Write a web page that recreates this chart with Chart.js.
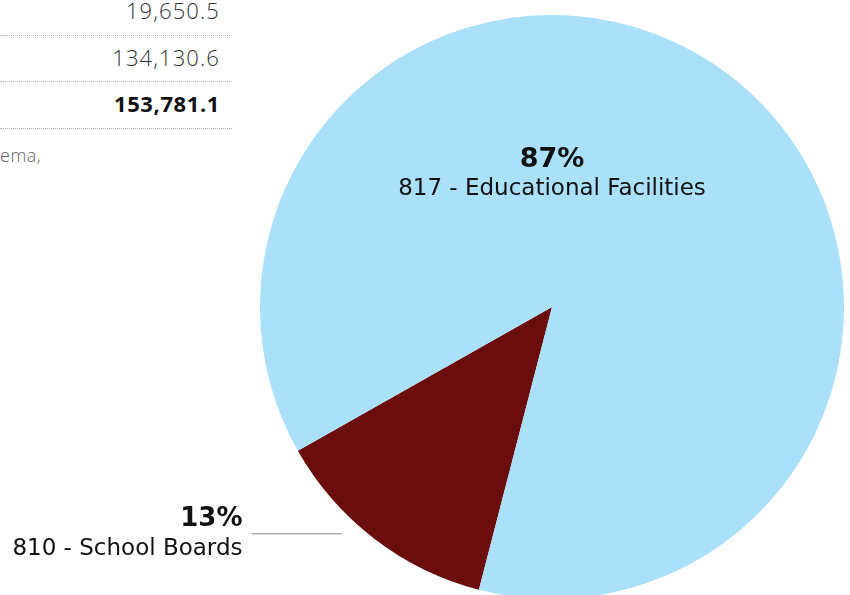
<!DOCTYPE html>
<html>
<head>
<meta charset="utf-8">
<script src="https://cdn.jsdelivr.net/npm/chart.js@4/dist/chart.umd.min.js"></script>
<style>
  html, body { margin: 0; padding: 0; background: #fff; width: 850px; height: 595px; overflow: hidden; }
  .wrap { position: absolute; left: 0; top: 0; width: 850px; height: 615px; }
  .tbl { position: absolute; left: 0; top: -11px; width: 232px; font-family: "Open Sans", sans-serif; }
  .row { height: 46.5px; border-bottom: 1px dotted #b0b0b0; text-align: right; padding-right: 12px; box-sizing: border-box;
         font-size: 22px; font-weight: 300; color: #333; line-height: 42px; letter-spacing: 1.1px; }
  .row.total { font-weight: 700; color: #111; letter-spacing: 0.6px; }
  .note { position: absolute; left: 0; top: 143px; font-family: "Open Sans", sans-serif; font-size: 18px; font-weight: 300; color: #666; letter-spacing: 0.5px; }
</style>
</head>
<body>
<div class="tbl" id="tbl"></div>
<div class="note">ema,</div>
<div class="wrap"><canvas id="pie"></canvas></div>
<script>
const categories = ['810 - School Boards', '817 - Educational Facilities'];
const amounts = [19650.5, 134130.6];
const colors = ['#6b0d0d', '#abe0fa'];

const total = amounts.reduce((a, b) => a + b, 0);
const fmt = v => v.toLocaleString('en-US', { minimumFractionDigits: 1, maximumFractionDigits: 1 });

// table rows on the left (cut off in the source)
const tbl = document.getElementById('tbl');
amounts.concat([total]).forEach((v, i) => {
  const d = document.createElement('div');
  d.className = 'row' + (i === amounts.length ? ' total' : '');
  d.textContent = fmt(v);
  tbl.appendChild(d);
});

const labelPlugin = {
  id: 'sliceLabels',
  afterDraw(chart) {
    const ctx = chart.ctx;
    const arcs = chart.getDatasetMeta(0).data;
    const cx = arcs[0].x, cy = arcs[0].y, r = arcs[0].outerRadius;
    const pct = amounts.map(v => Math.round(v / total * 100) + '%');
    ctx.save();
    ctx.fillStyle = '#111';
    // big slice label, inside
    ctx.textAlign = 'center';
    ctx.font = 'bold 27px "DejaVu Sans"';
    ctx.fillText(pct[1], cx, cy - r * 0.478);
    ctx.font = '23px "DejaVu Sans"';
    ctx.fillText(categories[1], cx, cy - r * 0.382);
    // small slice label, outside with leader line
    ctx.textAlign = 'right';
    const lx = cx - r * 1.06, ly = cy + r * 0.775;
    ctx.font = 'bold 26px "DejaVu Sans"';
    ctx.fillText(pct[0], lx, ly - 7);
    ctx.font = '23px "DejaVu Sans"';
    ctx.fillText(categories[0], lx, ly + 22);
    ctx.strokeStyle = '#888';
    ctx.lineWidth = 1;
    ctx.beginPath();
    ctx.moveTo(lx + 9, ly + 0.5);
    ctx.lineTo(cx - r * 0.72, ly + 0.5);
    ctx.stroke();
    ctx.restore();
  }
};

new Chart(document.getElementById('pie').getContext('2d'), {
  type: 'pie',
  data: {
    labels: categories,
    datasets: [{
      data: amounts,
      backgroundColor: colors,
      borderWidth: 0
    }]
  },
  options: {
    responsive: true,
    maintainAspectRatio: false,
    animation: false,
    rotation: 194.5,
    layout: { padding: { left: 260, right: 6, top: 15, bottom: 16 } },
    plugins: {
      legend: { display: false },
      tooltip: { enabled: false }
    }
  },
  plugins: [labelPlugin]
});
</script>
</body>
</html>
